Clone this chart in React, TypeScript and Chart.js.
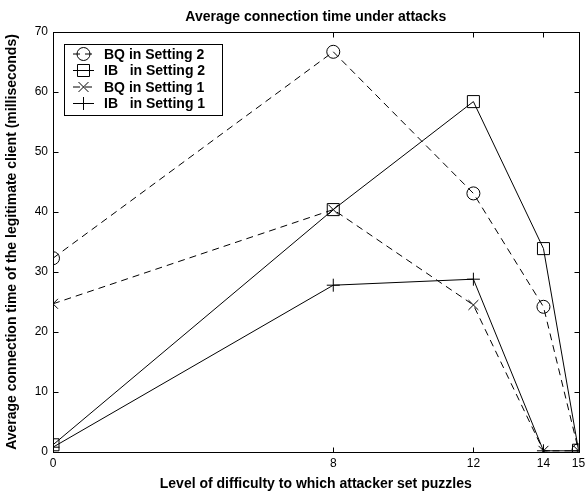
import React, { useEffect, useRef } from "react";
import { Chart, registerables } from "chart.js";

Chart.register(...registerables);

const xValues = [0, 8, 12, 14, 15];
const xTicks = [0, 8, 12, 14, 15];
const bqSetting2 = [32.3, 66.7, 43.1, 24.2, 0.3];
const ibSetting2 = [1.2, 40.4, 58.4, 33.9, 0.3];
const bqSetting1 = [24.7, 40.4, 24.5, 0.2, 0.2];
const ibSetting1 = [0.8, 27.8, 28.8, 0.2, 0.2];
const seriesLabels = ["BQ in Setting 2", "IB   in Setting 2", "BQ in Setting 1", "IB   in Setting 1"];
const chartTitle = "Average connection time under attacks";
const xTitle = "Level of difficulty to which attacker set puzzles";
const yTitle = "Average connection time of the legitimate client (milliseconds)";

const FONT = "'Liberation Sans', Arial, Helvetica, sans-serif";

function drawMarker(ctx: CanvasRenderingContext2D, style: string, x: number, y: number, r: number) {
  ctx.beginPath();
  if (style === "circle") {
    ctx.arc(x, y, r, 0, Math.PI * 2);
  } else if (style === "rect") {
    const s = r * Math.SQRT1_2;
    ctx.rect(x - s, y - s, 2 * s, 2 * s);
  } else if (style === "crossRot") {
    const o = r * Math.SQRT1_2;
    ctx.moveTo(x - o, y - o);
    ctx.lineTo(x + o, y + o);
    ctx.moveTo(x - o, y + o);
    ctx.lineTo(x + o, y - o);
  } else if (style === "cross") {
    ctx.moveTo(x - r, y);
    ctx.lineTo(x + r, y);
    ctx.moveTo(x, y - r);
    ctx.lineTo(x, y + r);
  }
  ctx.stroke();
}

const boxAndTicks = {
  id: "boxAndTicks",
  afterDraw(chart: any) {
    const { ctx, chartArea } = chart;
    const xs = chart.scales.x;
    const ys = chart.scales.y;
    ctx.save();
    ctx.strokeStyle = "#000";
    ctx.lineWidth = 1;
    ctx.setLineDash([]);
    const L = Math.round(chartArea.left) + 0.5;
    const R = Math.round(chartArea.right) + 0.5;
    const T = Math.round(chartArea.top) + 0.5;
    const B = Math.round(chartArea.bottom) + 0.5;
    ctx.strokeRect(L, T, R - L, B - T);
    const tl = 5;
    ctx.beginPath();
    xs.ticks.forEach((t: any) => {
      const px = Math.round(xs.getPixelForValue(t.value)) + 0.5;
      ctx.moveTo(px, B);
      ctx.lineTo(px, B - tl);
      ctx.moveTo(px, T);
      ctx.lineTo(px, T + tl);
    });
    ys.ticks.forEach((t: any) => {
      const py = Math.round(ys.getPixelForValue(t.value)) + 0.5;
      ctx.moveTo(L, py);
      ctx.lineTo(L + tl, py);
      ctx.moveTo(R, py);
      ctx.lineTo(R - tl, py);
    });
    ctx.stroke();

    // title centred over the axes
    ctx.fillStyle = "#000";
    ctx.font = `bold 14px ${FONT}`;
    ctx.textAlign = "center";
    ctx.textBaseline = "alphabetic";
    ctx.fillText(chartTitle, (chartArea.left + chartArea.right) / 2, 21);

    // legend
    const bx = 64.5, by = 44.5, bw = 158, bh = 71;
    ctx.fillStyle = "#fff";
    ctx.fillRect(bx, by, bw, bh);
    ctx.strokeRect(bx, by, bw, bh);
    chart.data.datasets.forEach((ds: any, i: number) => {
      const y = 54 + i * 16.5;
      ctx.setLineDash(ds.borderDash || []);
      ctx.beginPath();
      ctx.moveTo(73, y);
      ctx.lineTo(94, y);
      ctx.stroke();
      ctx.setLineDash([]);
      drawMarker(ctx, ds.pointStyle, 83.5, y, ds.pointRadius);
      ctx.fillStyle = "#000";
      ctx.font = `bold 14px ${FONT}`;
      ctx.textAlign = "left";
      ctx.textBaseline = "middle";
      ctx.fillText(ds.label, 104, y + 1);
    });
    ctx.restore();
  },
};

export default function App() {
  const ref = useRef<HTMLCanvasElement>(null);
  useEffect(() => {
    const mk = (label: string, vals: number[], style: string, r: number, dashed: boolean) => ({
      label,
      data: xValues.map((x, i) => ({ x, y: vals[i] })),
      borderColor: "#000",
      borderWidth: 1,
      borderDash: dashed ? [7, 5] : [],
      pointStyle: style,
      pointRadius: r,
      pointHoverRadius: r,
      pointBorderColor: "#000",
      pointBackgroundColor: "rgba(0,0,0,0)",
      pointBorderWidth: 1,
      fill: false,
      tension: 0,
    });
    const chart = new Chart(ref.current!, {
      type: "line",
      data: {
        datasets: [
          mk(seriesLabels[0], bqSetting2, "circle", 6.5, true),
          mk(seriesLabels[1], ibSetting2, "rect", 8.5, false),
          mk(seriesLabels[2], bqSetting1, "crossRot", 7, true),
          mk(seriesLabels[3], ibSetting1, "cross", 6.5, false),
        ] as any,
      },
      plugins: [boxAndTicks],
      options: {
        animation: false,
        responsive: false,
        events: [],
        layout: { padding: { left: 0, right: 5, top: 32, bottom: 0 } },
        plugins: {
          legend: { display: false },
          tooltip: { enabled: false },
          title: { display: false },
        },
        scales: {
          x: {
            type: "linear",
            min: 0,
            max: 15,
            afterBuildTicks: (scale: any) => {
              scale.ticks = xTicks.map((v) => ({ value: v }));
            },
            afterFit: (scale: any) => {
              scale.height = 41;
              scale.paddingLeft = 0;
              scale.paddingRight = 0;
            },
            grid: { display: false, drawTicks: false },
            border: { display: false },
            ticks: {
              color: "#000",
              font: { family: FONT, size: 12 },
              padding: 4,
              maxRotation: 0,
              autoSkip: false,
            },
            title: {
              display: true,
              text: xTitle,
              color: "#000",
              font: { family: FONT, size: 14, weight: "bold" },
              padding: { top: 0, bottom: 0 },
            },
          },
          y: {
            min: 0,
            max: 70,
            afterFit: (scale: any) => {
              scale.width = 53;
              scale.paddingTop = 0;
              scale.paddingBottom = 0;
            },
            grid: { display: false, drawTicks: false },
            border: { display: false },
            ticks: {
              stepSize: 10,
              color: "#000",
              font: { family: FONT, size: 12 },
              padding: 5,
            },
            title: {
              display: true,
              text: yTitle,
              color: "#000",
              font: { family: FONT, size: 14, weight: "bold" },
              padding: { top: 4, bottom: 4 },
            },
          },
        },
      },
    });
    return () => chart.destroy();
  }, []);
  return (
    <div style={{ position: "fixed", left: 0, top: 0, width: 588, height: 493 }}>
      <canvas ref={ref} width={588} height={493} style={{ width: 588, height: 493 }} />
    </div>
  );
}
